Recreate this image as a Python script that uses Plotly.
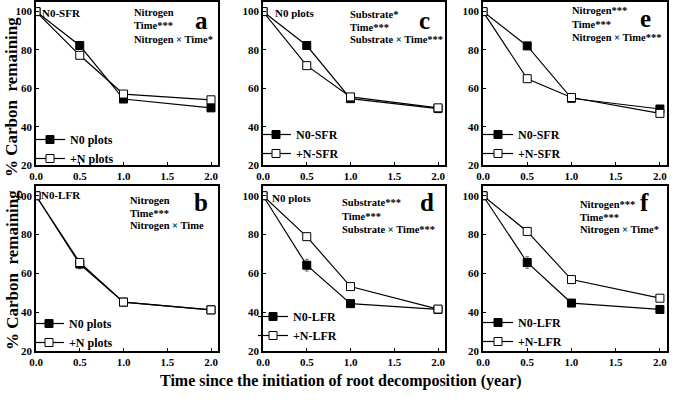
import plotly.graph_objects as go

W, H = 685, 400

years = [0.0, 0.5, 1.0, 2.0]

# Panel a: N0-SFR, N0 plots vs +N plots
a_n0 = [100, 82.3, 54.4, 49.8]
a_pn = [100, 77.2, 57.0, 54.0]
a_n0_err = [0, 1.0, 1.0, 1.5]
a_pn_err = [0, 1.0, 0.8, 1.0]

# Panel b: N0-LFR, N0 plots vs +N plots
b_n0 = [100, 64.8, 45.2, 41.2]
b_pn = [100, 65.6, 45.2, 41.2]
b_n0_err = [0, 2.5, 0.8, 0.8]
b_pn_err = [0, 2.0, 0.8, 0.8]

# Panel c: N0 plots, N0-SFR vs +N-SFR
c_n0 = [100, 82.3, 54.6, 49.4]
c_pn = [100, 71.8, 55.5, 49.8]
c_n0_err = [0, 1.0, 1.0, 2.0]
c_pn_err = [0, 1.0, 0.8, 1.5]

# Panel d: N0 plots, N0-LFR vs +N-LFR
d_n0 = [100, 64.2, 44.4, 41.4]
d_pn = [100, 78.9, 53.2, 41.6]
d_n0_err = [0, 3.0, 0.8, 0.8]
d_pn_err = [0, 1.0, 0.8, 0.8]

# Panel e: N0-SFR vs +N-SFR
e_n0 = [100, 82.1, 54.8, 49.2]
e_pn = [100, 65.0, 55.2, 46.9]
e_n0_err = [0, 1.0, 0.8, 1.5]
e_pn_err = [0, 1.0, 0.8, 1.0]

# Panel f: N0-LFR vs +N-LFR
f_n0 = [100, 65.6, 44.7, 41.4]
f_pn = [100, 81.6, 56.8, 47.2]
f_n0_err = [0, 3.0, 0.8, 0.6]
f_pn_err = [0, 1.0, 0.8, 0.8]

x_ticks = [0.0, 0.5, 1.0, 1.5, 2.0]
y_ticks = [20, 40, 60, 80, 100]

FONT = "Liberation Serif"


def px(x):
    return x / W


def py(y):
    return 1 - y / H


# layout geometry (pixels)
cols = [(36, 218), (263, 445), (483, 667)]
rows = [(2, 165), (186, 351)]

panels = [
    dict(n0=a_n0, pn=a_pn, e0=a_n0_err, ep=a_pn_err, row=0, col=0,
         names=["N0 plots", "+N plots"], corner="N0-SFR", cornerxy=(40, 13),
         stats=["Nitrogen", "Time***", "Nitrogen × Time*"], statxy=(132, 13),
         letter="a", letterxy=(201, 20), leg=(30, 125)),
    dict(n0=c_n0, pn=c_pn, e0=c_n0_err, ep=c_pn_err, row=0, col=1,
         names=["N0-SFR", "+N-SFR"], corner="N0 plots", cornerxy=(273, 13),
         stats=["Substrate*", "Time***", "Substrate × Time***"], statxy=(348, 14),
         letter="c", letterxy=(424, 20), leg=(256, 120)),
    dict(n0=e_n0, pn=e_pn, e0=e_n0_err, ep=e_pn_err, row=0, col=2,
         names=["N0-SFR", "+N-SFR"], corner=None, cornerxy=None,
         stats=["Nitrogen***", "Time***", "Nitrogen × Time***"], statxy=(570, 11),
         letter="e", letterxy=(645, 18), leg=(478, 120)),
    dict(n0=b_n0, pn=b_pn, e0=b_n0_err, ep=b_pn_err, row=1, col=0,
         names=["N0 plots", "+N plots"], corner="N0-LFR", cornerxy=(39, 195),
         stats=["Nitrogen", "Time***", "Nitrogen × Time"], statxy=(128, 200),
         letter="b", letterxy=(201, 203), leg=(29, 309)),
    dict(n0=d_n0, pn=d_pn, e0=d_n0_err, ep=d_pn_err, row=1, col=1,
         names=["N0-LFR", "+N-LFR"], corner="N0 plots", cornerxy=(270, 198),
         stats=["Substrate***", "Time***", "Substrate × Time***"], statxy=(340, 203),
         letter="d", letterxy=(427, 203), leg=(253, 302)),
    dict(n0=f_n0, pn=f_pn, e0=f_n0_err, ep=f_pn_err, row=1, col=2,
         names=["N0-LFR", "+N-LFR"], corner=None, cornerxy=None,
         stats=["Nitrogen***", "Time***", "Nitrogen × Time*"], statxy=(578, 204),
         letter="f", letterxy=(644, 203), leg=(478, 308)),
]

fig = go.Figure()
layout = dict(
    template="none",
    width=W, height=H,
    margin=dict(l=0, r=0, t=0, b=0, autoexpand=False),
    paper_bgcolor="white", plot_bgcolor="white",
    font=dict(family=FONT, color="black"),
    showlegend=True,
)
annotations = []

for i, p in enumerate(panels):
    k = i + 1
    xs = "x" if k == 1 else f"x{k}"
    ys = "y" if k == 1 else f"y{k}"
    lg = "legend" if k == 1 else f"legend{k}"
    x0, x1 = cols[p["col"]]
    y0, y1 = rows[p["row"]]
    axis_common = dict(
        showline=True, linecolor="black", linewidth=1.5, mirror=True,
        ticks="inside", ticklen=3, tickcolor="black", tickwidth=1,
        showgrid=False, zeroline=False, automargin=False,
        tickfont=dict(family=FONT, size=11, color="black", weight="bold"),
    )
    layout["xaxis" if k == 1 else f"xaxis{k}"] = dict(
        axis_common, domain=[px(x0), px(x1)], range=[0, 2.08],
        tickvals=x_ticks, ticktext=[f"{v:.1f}" for v in x_ticks],
        anchor=ys,
    )
    layout["yaxis" if k == 1 else f"yaxis{k}"] = dict(
        axis_common, domain=[py(y1), py(y0)], range=[20, 105],
        tickvals=y_ticks, anchor=xs,
    )
    fig.add_trace(go.Scatter(
        x=years, y=p["n0"], name=p["names"][0], mode="lines+markers",
        xaxis=xs, yaxis=ys, legend=lg,
        line=dict(color="black", width=1.2),
        marker=dict(symbol="square", size=8, color="black",
                    line=dict(color="black", width=1)),
        error_y=dict(type="data", array=p["e0"], color="#555555",
                     thickness=0.8, width=2),
    ))
    fig.add_trace(go.Scatter(
        x=years, y=p["pn"], name=p["names"][1], mode="lines+markers",
        xaxis=xs, yaxis=ys, legend=lg,
        line=dict(color="black", width=1.2),
        marker=dict(symbol="square", size=8, color="white",
                    line=dict(color="black", width=1)),
        error_y=dict(type="data", array=p["ep"], color="#555555",
                     thickness=0.8, width=2),
    ))
    lx, ly = p["leg"]
    layout[lg] = dict(
        x=px(lx), y=py(ly), xanchor="left", yanchor="top",
        bgcolor="rgba(0,0,0,0)", borderwidth=0,
        font=dict(family=FONT, size=12, color="black", weight="bold"),
        itemwidth=30, tracegroupgap=0,
    )
    if p["corner"]:
        cx, cy = p["cornerxy"]
        annotations.append(dict(
            x=px(cx), y=py(cy), xref="paper", yref="paper",
            xanchor="left", yanchor="middle", showarrow=False,
            text=p["corner"],
            font=dict(family=FONT, size=11, color="black", weight="bold"),
        ))
    sx, sy = p["statxy"]
    for j, line in enumerate(p["stats"]):
        annotations.append(dict(
            x=px(sx), y=py(sy + 13 * j), xref="paper", yref="paper",
            xanchor="left", yanchor="middle", showarrow=False,
            text=line,
            font=dict(family=FONT, size=10.5, color="black", weight="bold"),
        ))
    lx2, ly2 = p["letterxy"]
    annotations.append(dict(
        x=px(lx2), y=py(ly2), xref="paper", yref="paper",
        xanchor="center", yanchor="middle", showarrow=False,
        text=p["letter"],
        font=dict(family=FONT, size=25, color="black", weight="bold"),
    ))

for yc in (97, 270):
    annotations.append(dict(
        x=px(12), y=py(yc), xref="paper", yref="paper",
        xanchor="center", yanchor="middle", showarrow=False,
        text="% Carbon  remaining", textangle=-90,
        font=dict(family=FONT, size=17, color="black", weight="bold"),
    ))
annotations.append(dict(
    x=px(341), y=py(381), xref="paper", yref="paper",
    xanchor="center", yanchor="middle", showarrow=False,
    text="Time since the initiation of root decomposition (year)",
    font=dict(family=FONT, size=16, color="black", weight="bold"),
))

layout["annotations"] = annotations
fig.update_layout(**layout)
fig.write_html("out.html", config={"displayModeBar": False},
               post_script="document.body.style.margin='0px';")
